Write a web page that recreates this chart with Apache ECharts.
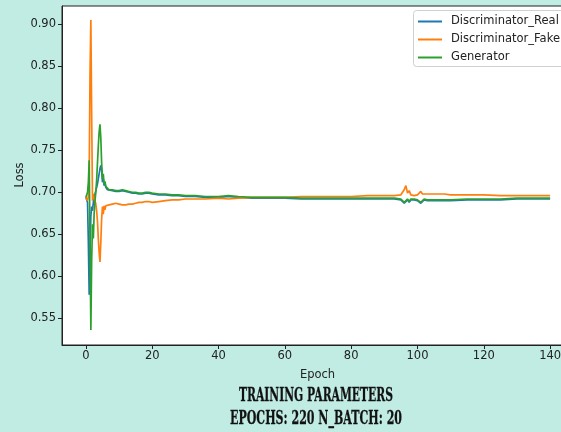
<!DOCTYPE html>
<html><head><meta charset="utf-8">
<script src="https://cdn.jsdelivr.net/npm/echarts@6/dist/echarts.min.js"></script>
<style>html,body{margin:0;padding:0;background:#c0ece4;} #c{width:561px;height:432px;}</style>
</head><body><div id="c"></div>
<script>
const epochs = [0, 0.25, 0.5, 0.75, 1.0, 1.25, 1.5, 1.75, 2.0, 2.25, 2.5, 2.75, 3.0, 3.25, 3.5, 3.75, 4.0, 4.25, 4.5, 4.75, 5.0, 5.25, 5.5, 5.75, 6.0, 6.5, 7.0,
  8, 9, 10, 11, 12, 13, 14, 15, 16, 17, 18, 19, 20, 22, 24, 26, 28, 30, 33, 36, 40, 43, 46, 50, 55, 60, 65, 70, 75, 80, 85, 90, 93, 95,
  96, 96.5, 97, 97.5, 98, 99, 100, 100.5, 101, 101.5, 102, 103, 105, 108, 110, 115, 120, 125, 130, 135, 140];
const discReal = [0.694, 0.693, 0.688, 0.64, 0.578, 0.63, 0.672, 0.683, 0.678, 0.688, 0.693, 0.698, 0.702, 0.706, 0.71, 0.716, 0.722, 0.728, 0.732, 0.727, 0.712, 0.716, 0.708, 0.711, 0.706, 0.703, 0.702,
  0.702, 0.701, 0.701, 0.702, 0.701, 0.700, 0.699, 0.699, 0.698, 0.698, 0.699, 0.699, 0.698, 0.697, 0.697, 0.696, 0.696, 0.695, 0.695, 0.694, 0.694, 0.695, 0.694, 0.693, 0.693, 0.693, 0.692, 0.692, 0.692, 0.692, 0.692, 0.692, 0.692, 0.691,
  0.687, 0.685, 0.691, 0.688, 0.691, 0.691, 0.690, 0.691, 0.687, 0.689, 0.691, 0.690, 0.690, 0.690, 0.690, 0.691, 0.691, 0.691, 0.692, 0.692, 0.692];
const discFake = [0.694, 0.692, 0.690, 0.695, 0.72, 0.84, 0.905, 0.79, 0.69, 0.698, 0.694, 0.69, 0.686, 0.678, 0.665, 0.645, 0.628, 0.617, 0.64, 0.668, 0.683, 0.674, 0.684, 0.679, 0.684, 0.683, 0.685,
  0.686, 0.687, 0.686, 0.685, 0.685, 0.686, 0.686, 0.687, 0.688, 0.688, 0.689, 0.689, 0.688, 0.689, 0.690, 0.691, 0.691, 0.692, 0.692, 0.692, 0.693, 0.692, 0.693, 0.694, 0.694, 0.694, 0.695, 0.695, 0.695, 0.695, 0.696, 0.696, 0.696, 0.697,
  0.703, 0.708, 0.699, 0.702, 0.697, 0.696, 0.697, 0.696, 0.701, 0.698, 0.699, 0.698, 0.698, 0.698, 0.697, 0.697, 0.697, 0.696, 0.696, 0.696, 0.696];
const generator = [0.694, 0.696, 0.700, 0.712, 0.738, 0.64, 0.536, 0.62, 0.662, 0.645, 0.675, 0.69, 0.70, 0.715, 0.735, 0.755, 0.772, 0.781, 0.765, 0.735, 0.716, 0.722, 0.71, 0.713, 0.707, 0.705, 0.703,
  0.703, 0.702, 0.702, 0.703, 0.702, 0.701, 0.700, 0.700, 0.699, 0.699, 0.700, 0.700, 0.699, 0.698, 0.698, 0.697, 0.697, 0.696, 0.696, 0.695, 0.695, 0.696, 0.695, 0.694, 0.694, 0.694, 0.693, 0.693, 0.693, 0.693, 0.693, 0.693, 0.693, 0.692,
  0.688, 0.686, 0.692, 0.689, 0.692, 0.692, 0.691, 0.692, 0.688, 0.690, 0.692, 0.691, 0.691, 0.691, 0.691, 0.692, 0.692, 0.692, 0.693, 0.693, 0.693];
const seriesNames = ['Discriminator_Real', 'Discriminator_Fake', 'Generator'];
const seriesValues = [discReal, discFake, generator];
const seriesColors = ['#1f77b4', '#ff7f0e', '#2ca02c'];
const xTicks = [0, 20, 40, 60, 80, 100, 120, 140];
const yTicks = [0.55, 0.60, 0.65, 0.70, 0.75, 0.80, 0.85, 0.90];
const xName = 'Epoch';
const yName = 'Loss';
const footerLines = ['TRAINING PARAMETERS', 'EPOCHS: 220 N_BATCH: 20'];

const FONT = '"DejaVu Sans", sans-serif';
const footFont = 'bold 19px "DejaVu Serif", serif';
const footWidths = [154, 172];
const footY = [396, 419.5];
const cv = document.createElement('canvas').getContext('2d');
cv.font = footFont;
const graphics = footerLines.map((t, i) => {
  const w = cv.measureText(t).width;
  return {
    type: 'text', x: 316, y: footY[i], scaleX: footWidths[i] / w,
    style: { text: t, font: footFont, fill: '#111', stroke: '#111', lineWidth: 0.3, textAlign: 'center', textVerticalAlign: 'middle' },
    silent: true
  };
});
graphics.push({
  type: 'rect', z: 10, silent: true,
  shape: { x: 413.5, y: 10.5, width: 200, height: 56, r: 3 },
  style: { fill: 'rgba(255,255,255,0.85)', stroke: '#d0d0d0', lineWidth: 1 }
});
graphics.push({
  type: 'text', x: 20, y: 175, rotation: Math.PI / 2, silent: true,
  style: { text: yName, font: '11.5px "DejaVu Sans", sans-serif', fill: '#222', textAlign: 'center', textVerticalAlign: 'middle' }
});

const chart = echarts.init(document.getElementById('c'), null, { renderer: 'canvas' });
chart.setOption({
  animation: false,
  backgroundColor: '#c0ece4',
  grid: { left: 62, top: 6, width: 511, height: 339, outerBoundsMode: 'none', containLabel: false, show: true, backgroundColor: '#fff', borderColor: '#222', borderWidth: 1 },
  legend: {
    orient: 'vertical', left: 413, top: 10, z: 20,
    icon: 'rect', itemWidth: 24, itemHeight: 2, itemGap: 5,
    padding: [5, 5, 5, 5],
    textStyle: { fontFamily: FONT, fontSize: 11.5, color: '#222', lineHeight: 13, padding: [0, 0, 0, 4] },
    data: seriesNames
  },
  xAxis: {
    type: 'value', min: -7.2, max: 146.9,
    name: xName, nameLocation: 'middle', nameGap: 24,
    nameTextStyle: { fontFamily: FONT, fontSize: 11.5, color: '#222' },
    axisLine: { onZero: false, lineStyle: { color: '#222', width: 1 } },
    axisTick: { customValues: xTicks, length: 4, lineStyle: { color: '#222' } },
    axisLabel: { customValues: xTicks, fontFamily: FONT, fontSize: 11.5, color: '#222', margin: 5 },
    splitLine: { show: false }
  },
  yAxis: {
    type: 'value', min: 0.5182, max: 0.9218,
    axisLine: { show: true, onZero: false, lineStyle: { color: '#222', width: 1 } },
    axisTick: { show: true, customValues: yTicks, length: 4, lineStyle: { color: '#222' } },
    axisLabel: { customValues: yTicks, fontFamily: FONT, fontSize: 11.5, color: '#222', margin: 6, formatter: v => v.toFixed(2) },
    splitLine: { show: false }
  },
  series: seriesNames.map((n, i) => ({
    name: n, type: 'line', showSymbol: false, symbol: 'none',
    data: epochs.map((e, k) => [e, seriesValues[i][k]]),
    lineStyle: { color: seriesColors[i], width: 1.7 },
    itemStyle: { color: seriesColors[i] },
    z: 2 + i
  })),
  graphic: graphics
});
</script>
</body></html>
